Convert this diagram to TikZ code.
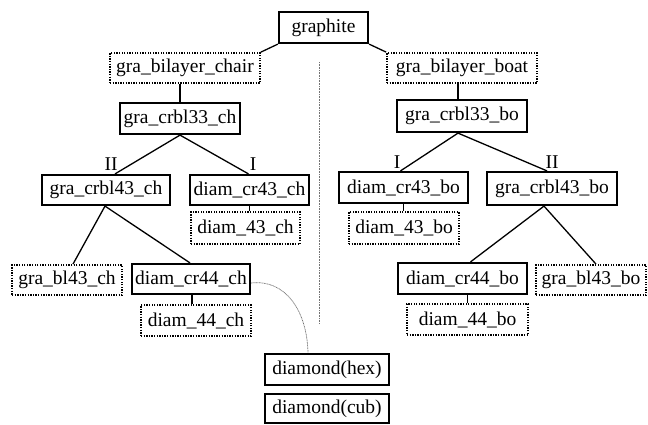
\documentclass[tikz,border=0pt]{standalone}
\usepackage{fontspec}
\setmainfont{Liberation Serif}
\begin{document}
\begin{tikzpicture}[x=1pt,y=-1pt,
  every node/.style={font=\fontsize{19.5}{22}\selectfont, inner sep=0pt, anchor=center},
  solidbox/.style={draw, line width=2.2pt, rectangle},
  dotbox/.style={draw, line width=1.8pt, rectangle, dash pattern=on 1.3pt off 1.3pt},
  link/.style={line width=1.3pt},
  faint/.style={draw=black!55, line width=0.7pt, dash pattern=on 1pt off 0.6pt},
  lab/.style={font=\fontsize{19.5}{22}\selectfont}
]
\useasboundingbox (0,0) rectangle (648,424);

\node[solidbox, minimum width=89, minimum height=31] (graphite) at (323.5,27.5) {graphite};
\node[dotbox, minimum width=150, minimum height=30] (chair) at (185,68) {gra\_bilayer\_chair};
\node[dotbox, minimum width=150, minimum height=30] (boat) at (462,68) {gra\_bilayer\_boat};
\node[solidbox, minimum width=120, minimum height=31] (crbl33ch) at (180,118.5) {gra\_crbl33\_ch};
\node[solidbox, minimum width=130, minimum height=32] (crbl33bo) at (462,116) {gra\_crbl33\_bo};
\node[solidbox, minimum width=128, minimum height=30] (crbl43ch) at (106,190) {gra\_crbl43\_ch};
\node[solidbox, minimum width=119, minimum height=30] (diamcr43ch) at (249.5,190) {diam\_cr43\_ch};
\node[solidbox, minimum width=129, minimum height=31] (diamcr43bo) at (403.5,187.5) {diam\_cr43\_bo};
\node[solidbox, minimum width=130, minimum height=33] (crbl43bo) at (552,188.5) {gra\_crbl43\_bo};
\node[dotbox, minimum width=109, minimum height=32] (diam43ch) at (245.5,228) {diam\_43\_ch};
\node[dotbox, minimum width=110, minimum height=32] (diam43bo) at (404,228) {diam\_43\_bo};
\node[dotbox, minimum width=110, minimum height=30] (grabl43ch) at (67,280) {gra\_bl43\_ch};
\node[solidbox, minimum width=118, minimum height=30] (diamcr44ch) at (191,279) {diam\_cr44\_ch};
\node[dotbox, minimum width=110, minimum height=31] (diam44ch) at (196,320.5) {diam\_44\_ch};
\node[solidbox, minimum width=129, minimum height=31] (diamcr44bo) at (462.5,278.5) {diam\_cr44\_bo};
\node[dotbox, minimum width=110, minimum height=30] (grabl43bo) at (591,280) {gra\_bl43\_bo};
\node[dotbox, minimum width=121, minimum height=31] (diam44bo) at (467.5,319.5) {diam\_44\_bo};
\node[solidbox, minimum width=124, minimum height=31] (hex) at (327,369.5) {diamond(hex)};
\node[solidbox, minimum width=124, minimum height=29] (cub) at (327,408.5) {diamond(cub)};

\node[lab] (l1) at (111,164) {II};
\node[lab] (l2) at (253,164) {I};
\node[lab] (l3) at (397,162) {I};
\node[lab] (l4) at (552,162) {II};

\coordinate (septop) at (319.5,62);
\coordinate (sepbot) at (319.5,324);

\draw[link] (graphite.south west) -- (chair.north east);
\draw[link] (graphite.south east) -- (boat.north west);
\draw[link] (crbl33ch.north) -- (crbl33ch.north |- chair.south);
\draw[link] ([xshift=-4]crbl33bo.north) -- ([xshift=-4]crbl33bo.north |- boat.south);
\draw[link] (crbl33ch.south) -- ([xshift=9]crbl43ch.north);
\draw[link] (crbl33ch.south) -- ([xshift=-1]diamcr43ch.north);
\draw[link] (diamcr43ch.south) -- (diamcr43ch.south |- diam43ch.north);
\draw[link] ([xshift=-4]crbl33bo.south) -- ([xshift=-3]diamcr43bo.north);
\draw[link] ([xshift=-4]crbl33bo.south) -- ([xshift=-5]crbl43bo.north);
\draw[link] (diamcr43bo.south) -- (diamcr43bo.south |- diam43bo.north);
\draw[link] ([xshift=-1]crbl43ch.south) -- ([xshift=6]grabl43ch.north);
\draw[link] ([xshift=-1]crbl43ch.south) -- ([xshift=-1]diamcr44ch.north);
\draw[link] ([xshift=1]diamcr44ch.south) -- ([xshift=1]diamcr44ch.south |- diam44ch.north);
\draw[link] ([xshift=-8]crbl43bo.south) -- ([xshift=8]diamcr44bo.north);
\draw[link] ([xshift=-8]crbl43bo.south) -- ([xshift=5]grabl43bo.north);
\draw[link] (diam44bo.north) -- (diam44bo.north |- diamcr44bo.south);

\draw[faint] (septop) -- (sepbot);
\draw[faint] ([yshift=-4]diamcr44ch.east) .. controls (285,279) and (307,310) .. ([xshift=-19]hex.north);
\end{tikzpicture}
\end{document}
